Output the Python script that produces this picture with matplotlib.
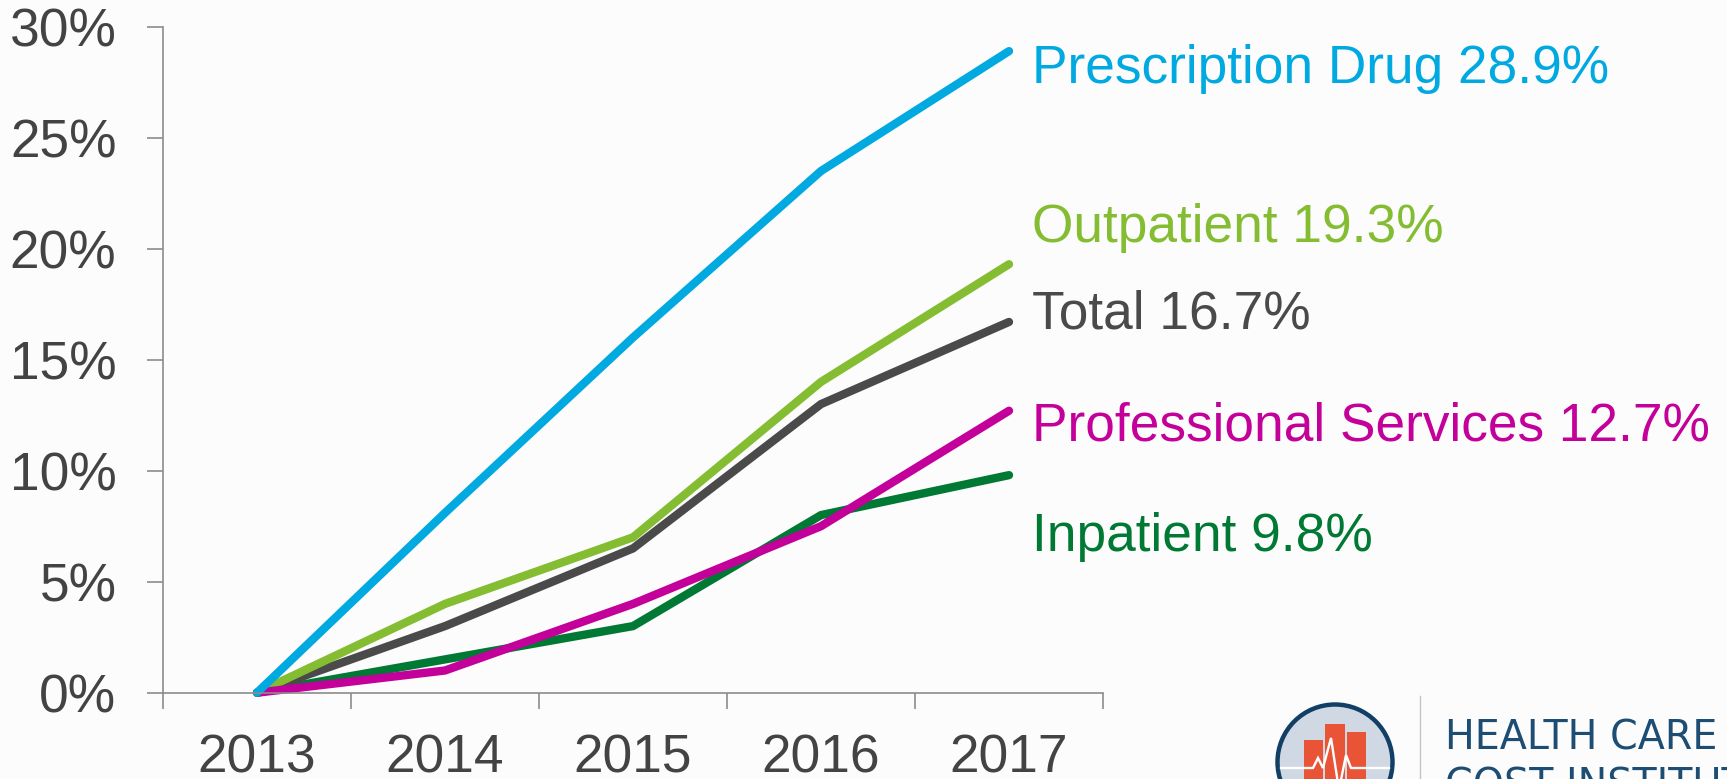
import matplotlib as mpl
mpl.use('Agg')
import matplotlib.pyplot as plt
from matplotlib.patches import Circle, Rectangle
from matplotlib.ticker import FuncFormatter, MultipleLocator

plt.rcParams['font.family'] = ['Liberation Sans', 'DejaVu Sans']

years = ['2013', '2014', '2015', '2016', '2017']
inpatient = [0, 1.5, 3, 8, 9.8]
total = [0, 3, 6.5, 13, 16.7]
outpatient = [0, 4, 7, 14, 19.3]
professional = [0, 1, 4, 7.5, 12.7]
prescription = [0, 8.1, 16, 23.5, 28.9]

# draw order matters, the later lines sit on top at the origin
series = [
	(inpatient, '#007934', 'Inpatient 9.8%', 7.0),
	(total, '#4a4a4a', 'Total 16.7%', 17.05),
	(outpatient, '#84bd32', 'Outpatient 19.3%', 20.95),
	(professional, '#c4009b', 'Professional Services 12.7%', 12.0),
	(prescription, '#00a9e0', 'Prescription Drug 28.9%', 28.1),
]

W, H = 1727, 779
bg = '#fcfcfc'
grey = '#8c8c8c'
text_grey = '#434343'

fig = plt.figure(figsize=(W / 100, H / 100), dpi=100, facecolor=bg)

# chart area, pixel box of the plot inside the slide
left, right, top, bottom = 163, 1103, 26.7, 692.7
ax = fig.add_axes([left / W, 1 - bottom / H, (right - left) / W, (bottom - top) / H])
ax.set_facecolor('none')

for values, color, label, label_y in series:
	ax.plot(years, values, color=color, lw=6.0, solid_capstyle='round', solid_joinstyle='miter', clip_on=False)
	ax.text(4.125, label_y, label, color=color, fontsize=38.3, va='center', ha='left', clip_on=False)

ax.set_xlim(-0.5, 4.5)
ax.set_ylim(0, 30)
ax.spines['top'].set_visible(False) # remove top frame
ax.spines['right'].set_visible(False) # remove right frame
ax.spines['left'].set_color(grey)
ax.spines['bottom'].set_color(grey)
ax.spines['left'].set_linewidth(1.2)
ax.spines['bottom'].set_linewidth(1.2)

ax.yaxis.set_major_locator(MultipleLocator(5))
ax.yaxis.set_major_formatter(FuncFormatter(lambda v, pos: f'{v:.0f}%'))
ax.tick_params(axis='y', length=11.5, width=1.2, color=grey, labelsize=38.3, labelcolor=text_grey, pad=22)

# ticks between the categories, labels centred under them
ax.set_xticks([i - 0.5 for i in range(len(years) + 1)], minor=False)
ax.set_xticklabels([''] * (len(years) + 1))
ax.tick_params(axis='x', length=11.5, width=1.2, color=grey)
for i, year in enumerate(years):
	ax.annotate(year, (i, 0), xytext=(0, -66), xycoords='data', textcoords='offset pixels',
		ha='center', va='center', fontsize=38.3, color=text_grey, annotation_clip=False)

# logo bottom right, cut off by the slide edge
logo = fig.add_axes([0, 0, 1, 1])
logo.set_xlim(0, W)
logo.set_ylim(H, 0)
logo.axis('off')
logo.patch.set_alpha(0)
logo.add_patch(Circle((1335, 762), 57.5, facecolor='#d0d8e3', edgecolor='#123f66', lw=3.2))
for x0, x1, y0 in [(1304, 1323, 740), (1325, 1345, 724), (1347, 1366, 732)]:
	logo.add_patch(Rectangle((x0, y0), x1 - x0, H - y0 + 5, facecolor='#ea5436', edgecolor='none'))
pulse_x = [1281, 1313, 1318, 1323, 1331, 1339, 1346, 1351, 1356, 1389]
pulse_y = [768, 768, 758, 768, 738, 790, 755, 768, 768, 768]
logo.plot(pulse_x, pulse_y, color='white', lw=1.7, solid_joinstyle='miter')
logo.plot([1420, 1420], [696, H], color='#c4c4c4', lw=1.0)
logo_text = dict(family=['DejaVu Sans'], fontsize=28.5, color='#1d4d73', ha='left', va='baseline', clip_on=False)
logo.text(1445, 750, 'HEALTH CARE', **logo_text)
logo.text(1445, 798, 'COST INSTITUTE', **logo_text)

plt.savefig('out.png', dpi=100, facecolor=bg)
